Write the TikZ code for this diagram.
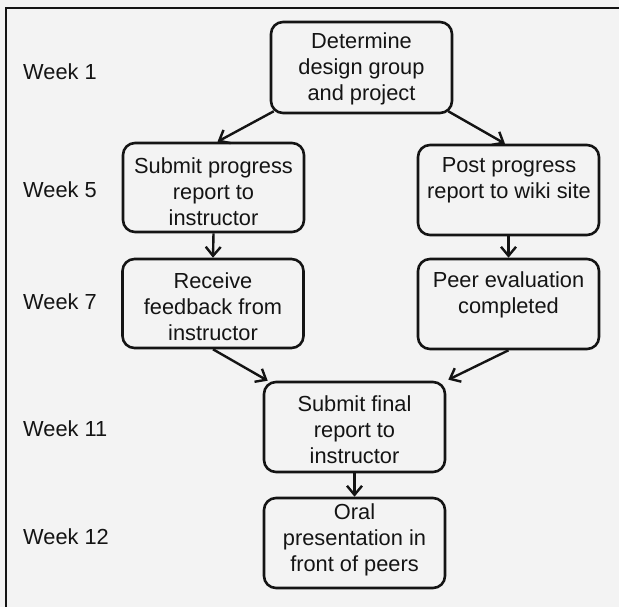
\documentclass[tikz,border=0pt]{standalone}
\usepackage{fontspec}
\setmainfont{Liberation Sans}
\usetikzlibrary{arrows.meta,calc}
\definecolor{bgc}{HTML}{F3F3F3}
\definecolor{ink}{HTML}{141414}
\begin{document}
\begin{tikzpicture}[x=1pt,y=-1pt,
  box/.style={draw=ink, line width=2.6pt, rounded corners=12pt, minimum width=181pt, inner sep=0pt},
  txt/.style={font=\fontsize{21.8}{26}\selectfont, align=center, text=ink, inner sep=0pt},
  wk/.style={font=\fontsize{21.8}{26}\selectfont, text=ink, anchor=west, inner sep=0pt},
  arr/.style={draw=ink, line width=2.4pt, -{Straight Barb[length=9pt,width=15pt]}}]
\fill[bgc] (0,0) rectangle (619,607);
\useasboundingbox (0,0) rectangle (619,607);
% frame (top and left edges visible)
\draw[ink, line width=2.6pt] (6,625) -- (6,8) -- (630,8);
% boxes
\node[box, minimum height=91pt] (det) at (361.5,67.5) {};
\node[box, minimum height=89pt] (sp) at (213.5,187.5) {};
\node[box, minimum height=90pt] (pp) at (508.5,190) {};
\node[box, minimum height=89pt] (rf) at (213,303.5) {};
\node[box, minimum height=90pt] (pe) at (508.5,304) {};
\node[box, minimum height=90pt] (sf) at (354.5,427) {};
\node[box, minimum height=90pt] (oral) at (354.5,543) {};
% box texts
\node[txt] (detT) at (361.5,69) {Determine\\design group\\and project};
\node[txt] (spT) at (213.5,192) {Submit progress\\report to\\instructor};
\node[txt] (ppT) at (509,180) {Post progress\\report to wiki site};
\node[txt] (rfT) at (213,307) {Receive\\feedback from\\instructor};
\node[txt] (peT) at (508.5,295) {Peer evaluation\\completed};
\node[txt] (sfT) at (354.5,430) {Submit final\\report to\\instructor};
\node[txt] (oralT) at (354.5,539.5) {Oral\\presentation in\\front of peers};
% week labels
\node[wk] (w1) at (23,72) {Week 1};
\node[wk] (w5) at (23,190) {Week 5};
\node[wk] (w7) at (23,302) {Week 7};
\node[wk] (w11) at (23,429) {Week 11};
\node[wk] (w12) at (23,537) {Week 12};
% connectors
\draw[arr] ($(det.south west)+(4,-3)$) -- ($(sp.north)+(4,0)$);
\draw[arr] ($(det.south east)+(-5,-3)$) -- ($(pp.north)+(-3.5,0)$);
\draw[arr] (sp.south) -- (rf.north);
\draw[arr] (pp.south) -- (pe.north);
\draw[arr] (rf.south) -- ($(sf.north west)+(5,0)$);
\draw[arr] (pe.south) -- ($(sf.north east)+(2,-1)$);
\draw[arr] (sf.south) -- (oral.north);
\end{tikzpicture}
\end{document}
